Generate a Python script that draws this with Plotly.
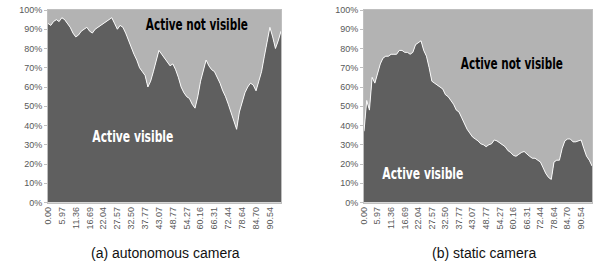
import plotly.graph_objects as go

# ---- data ----
tick_labels = ["0.00", "5.97", "11.36", "16.69", "22.04", "27.57", "32.50", "37.77",
               "43.07", "48.77", "54.27", "60.16", "66.31", "72.44", "78.64", "84.70", "90.54"]

# share of time the active player is visible (%), autonomous camera
auto_visible = [93, 92, 94, 95, 94, 96, 95, 93, 91, 88, 86, 87, 89, 90, 91, 89, 88, 90, 91, 92,
                93, 94, 95, 96, 93, 90, 92, 91, 88, 84, 80, 77, 74, 70, 68, 66, 60, 63, 68, 74,
                79, 77, 75, 73, 71, 72, 69, 65, 60, 57, 55, 54, 51, 49, 55, 63, 69, 74, 71, 69,
                68, 65, 62, 58, 55, 51, 47, 42, 38, 47, 52, 57, 60, 62, 61, 58, 63, 68, 76, 84,
                91, 86, 80, 84, 89]

# static camera
static_visible = [37, 53, 48, 65, 62, 67, 72, 75, 76, 76, 77, 77, 77, 79, 79, 78, 78, 77, 78, 82,
                  83, 84, 79, 76, 70, 63, 62, 61, 60, 59, 56, 55, 53, 51, 48, 47, 44, 41, 38, 36,
                  34, 33, 32, 30.5, 30, 29, 30, 30.5, 32.5, 32, 31, 30, 29, 27, 26, 24.5, 24, 25, 26, 26.5,
                  25, 24, 23, 23, 22, 21, 18, 15, 13, 12, 21, 22, 22, 28, 32, 33, 33, 31.5, 31.5, 32,
                  32.5, 28, 24, 22, 19]

labels_every = 5
captions = ["(a) autonomous camera", "(b) static camera"]
label_top = "Active not visible"
label_bottom = "Active visible"

DARK = "#5f5f5f"
LIGHT = "#b3b3b3"
W, H = 594, 267

fig = go.Figure()

def px_x(p):
    return p / W

def px_y(p):
    return 1 - p / H

panels = [
    (auto_visible, "x", "y", (48, 281)),
    (static_visible, "x2", "y2", (364, 592)),
]

for vis, xa, ya, _ in panels:
    n = len(vis)
    xs = list(range(n))
    notvis = [100 - v for v in vis]
    fig.add_trace(go.Scatter(x=xs, y=vis, xaxis=xa, yaxis=ya, stackgroup=xa, mode="lines",
                             line=dict(color="rgba(255,255,255,0.9)", width=1),
                             fillcolor=DARK, showlegend=False, hoverinfo="skip"))
    fig.add_trace(go.Scatter(x=xs, y=notvis, xaxis=xa, yaxis=ya, stackgroup=xa, mode="lines",
                             line=dict(color=LIGHT, width=0),
                             fillcolor=LIGHT, showlegend=False, hoverinfo="skip"))

tickfont = dict(family="Liberation Sans, Arial, sans-serif", size=9, color="#595959")
ydom = [px_y(202.5), px_y(10)]

layout = dict(
    width=W, height=H, margin=dict(l=0, r=0, t=0, b=0, autoexpand=False),
    paper_bgcolor="white", plot_bgcolor="white",
    showlegend=False,
)

for k, (vis, xa, ya, (x0, x1)) in enumerate(panels):
    n = len(vis)
    sfx = "" if k == 0 else "2"
    tv = list(range(0, len(tick_labels) * labels_every, labels_every))
    layout["xaxis" + sfx] = dict(
        domain=[px_x(x0), px_x(x1)], range=[0, n - 1], anchor="y" + sfx,
        tickmode="array", tickvals=tv, ticktext=tick_labels, tickangle=-90,
        tickfont=tickfont, showgrid=False, zeroline=False,
        showline=True, linecolor="#bfbfbf", linewidth=1, mirror=True,
        ticks="", fixedrange=True, automargin=False,
    )
    layout["yaxis" + sfx] = dict(
        domain=ydom, range=[0, 100], anchor="x" + sfx,
        tickmode="linear", tick0=0, dtick=10, ticksuffix="%",
        tickfont=tickfont, showgrid=False, zeroline=False,
        showline=True, linecolor="#bfbfbf", linewidth=1, mirror=True,
        ticks="outside", ticklen=3, tickcolor="#bfbfbf", fixedrange=True, automargin=False,
    )

fig.update_layout(**layout)

LBL_FAMILY = "DejaVu Sans Condensed, Liberation Sans Narrow, Arial Narrow, sans-serif"
label_font_black = dict(family=LBL_FAMILY, size=15, color="black", weight=900)
label_font_white = dict(family=LBL_FAMILY, size=15, color="white", weight=900)

annots = [
    (label_top, 197, 25, label_font_black),
    (label_bottom, 132.5, 137, label_font_white),
    (label_top, 512, 64, label_font_black),
    (label_bottom, 423.5, 174, label_font_white),
]
for text, cx, cy, f in annots:
    fig.add_annotation(text="<b>" + text + "</b>", x=px_x(cx), y=px_y(cy), xref="paper", yref="paper",
                       showarrow=False, font=f, xanchor="center", yanchor="middle")

for text, cx in zip(captions, [165, 484]):
    fig.add_annotation(text=text, x=px_x(cx), y=px_y(253), xref="paper", yref="paper",
                       showarrow=False, xanchor="center", yanchor="middle",
                       font=dict(family="Liberation Sans, Arial, sans-serif", size=14, color="#111111"))

post = """
document.body.style.margin='0';document.body.style.overflow='hidden';
(function(){
  function squeeze(){
    document.querySelectorAll('text.annotation-text').forEach(function(t){
      var s=t.textContent;
      if(s==='%s'){t.setAttribute('textLength','102');t.setAttribute('lengthAdjust','spacingAndGlyphs');}
      else if(s==='%s'){t.setAttribute('textLength','81');t.setAttribute('lengthAdjust','spacingAndGlyphs');}
    });
  }
  squeeze();
  var gd=document.getElementById('{plot_id}');
  if(gd&&gd.on){gd.on('plotly_afterplot',squeeze);}
})();
""" % (label_top, label_bottom)

fig.write_html("out.html", config={"displayModeBar": False}, post_script=post)
